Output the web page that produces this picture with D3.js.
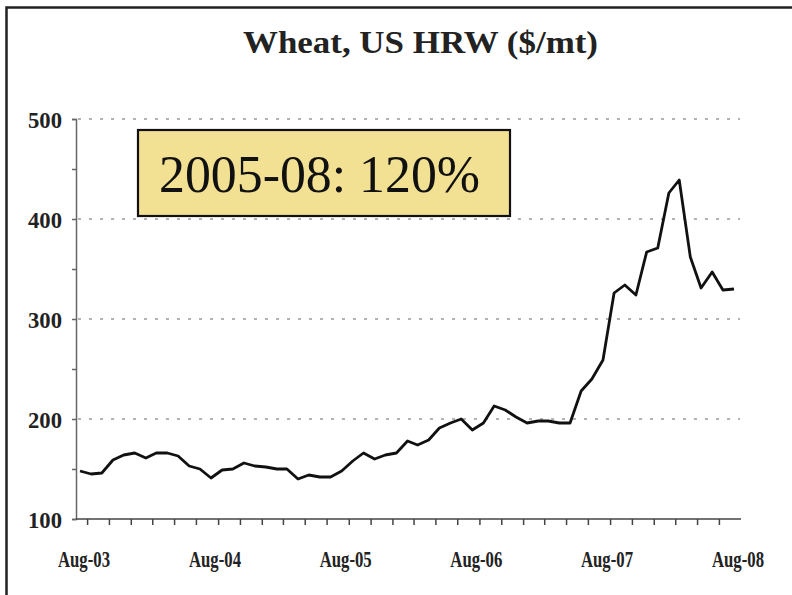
<!DOCTYPE html>
<html>
<head>
<meta charset="utf-8">
<script src="https://cdn.jsdelivr.net/npm/d3@7"></script>
<style>
  body { margin: 0; background: #fff; }
  svg { display: block; }
</style>
</head>
<body>
<script>
// Monthly price, Aug-03 .. Aug-08 ($/mt)
const startMonth = new Date(2003, 7, 1);
const prices = [
  148, 145, 146, 159, 164, 166, 161, 166, 166, 163, 153, 150,
  141, 149, 150, 156, 153, 152, 150, 150, 140, 144, 142, 142,
  148, 158, 166, 160, 164, 166, 178, 174, 179, 191, 196, 200,
  189, 196, 213, 209, 202, 196, 198, 198, 196, 196, 228, 240,
  259, 326, 334, 324, 367, 371, 426, 439, 362, 331, 347, 329,
  330
];
const xLabels = ['Aug-03', 'Aug-04', 'Aug-05', 'Aug-06', 'Aug-07', 'Aug-08'];
const yTicks = [100, 150, 200, 250, 300, 350, 400, 450, 500];
const gridValues = [200, 300, 400, 500];
const titleText = 'Wheat, US HRW ($/mt)';
const noteText = '2005-08: 120%';

const fullWidth = 792;
const fullHeight = 595;
const serif = '"Liberation Serif", "Times New Roman", serif';

const dates = prices.map((d, i) => d3.timeMonth.offset(startMonth, i));
const data = prices.map((p, i) => ({ date: dates[i], value: p }));

const svg = d3.select('body')
  .append('svg')
  .attr('width', fullWidth)
  .attr('height', fullHeight);

// Frame (right and bottom edges fall outside the picture)
svg.append('rect')
  .attr('x', 6.5)
  .attr('y', 7.5)
  .attr('width', 900)
  .attr('height', 700)
  .attr('fill', 'none')
  .attr('stroke', '#222')
  .attr('stroke-width', 2.5);

// Scales
const x = d3.scaleTime()
  .domain([dates[0], dates[dates.length - 1]])
  .range([80, 734]);

const y = d3.scaleLinear()
  .domain([100, 500])
  .range([519, 119]);

// Title (condensed, as in the original)
svg.append('text')
  .attr('x', 420.5)
  .attr('y', 53)
  .attr('text-anchor', 'middle')
  .attr('textLength', 355)
  .attr('lengthAdjust', 'spacingAndGlyphs')
  .style('font-family', serif)
  .style('font-weight', 'bold')
  .style('font-size', '31px')
  .style('fill', '#222')
  .text(titleText);

// Gridlines
svg.append('g')
  .selectAll('line')
  .data(gridValues)
  .enter()
  .append('line')
  .attr('x1', 78)
  .attr('x2', 740)
  .attr('y1', d => y(d))
  .attr('y2', d => y(d))
  .attr('stroke', '#9a9a9a')
  .attr('stroke-width', 1.3)
  .attr('stroke-dasharray', '3,8');

// Y axis
const yAxis = svg.append('g')
  .attr('transform', 'translate(76,0)')
  .call(d3.axisLeft(y)
    .tickValues(yTicks)
    .tickSize(4)
    .tickPadding(10)
    .tickFormat(d => (d % 100 === 0 ? d : '')));

yAxis.select('.domain')
  .attr('stroke', '#666')
  .attr('stroke-width', 1.5);
yAxis.selectAll('.tick line')
  .attr('stroke', '#666')
  .attr('stroke-width', 1.5);
yAxis.selectAll('.tick text')
  .attr('textLength', d => (d % 100 === 0 ? 34 : null))
  .attr('lengthAdjust', 'spacingAndGlyphs')
  .attr('dy', '0.36em')
  .style('font-family', serif)
  .style('font-weight', 'bold')
  .style('font-size', '24px')
  .style('fill', '#222');

// X axis: ticks every two months
const tickDates = d3.timeMonth.every(2)
  .range(dates[0], d3.timeMonth.offset(dates[dates.length - 1], 1));

const xAxis = svg.append('g')
  .attr('transform', 'translate(-4,519)')
  .call(d3.axisBottom(x)
    .tickValues(tickDates)
    .tickSize(6)
    .tickFormat(''));

xAxis.select('.domain').remove();
xAxis.selectAll('.tick line')
  .attr('stroke', '#444')
  .attr('stroke-width', 1.5);

svg.append('line')
  .attr('x1', 76)
  .attr('x2', 741)
  .attr('y1', y(100))
  .attr('y2', y(100))
  .attr('stroke', '#444')
  .attr('stroke-width', 1.5);

svg.append('g')
  .selectAll('text')
  .data(xLabels)
  .enter()
  .append('text')
  .attr('x', (d, i) => x(d3.timeMonth.offset(dates[0], i * 12)) + 4)
  .attr('y', 567)
  .attr('text-anchor', 'middle')
  .attr('textLength', 52)
  .attr('lengthAdjust', 'spacingAndGlyphs')
  .style('font-family', serif)
  .style('font-weight', 'bold')
  .style('font-size', '23px')
  .style('fill', '#222')
  .text(d => d);

// Price line
const line = d3.line()
  .x(d => x(d.date))
  .y(d => y(d.value));

svg.append('path')
  .datum(data)
  .attr('d', line)
  .attr('fill', 'none')
  .attr('stroke', '#111')
  .attr('stroke-width', 2.8)
  .attr('stroke-linejoin', 'round');

// Annotation box
const note = svg.append('g');

note.append('rect')
  .attr('x', 138)
  .attr('y', 130)
  .attr('width', 372)
  .attr('height', 86)
  .attr('fill', '#f3e193')
  .attr('stroke', '#111')
  .attr('stroke-width', 2.2);

note.append('text')
  .attr('x', 159)
  .attr('y', 192)
  .attr('textLength', 321)
  .attr('lengthAdjust', 'spacingAndGlyphs')
  .style('font-family', serif)
  .style('font-size', '52px')
  .style('fill', '#111')
  .text(noteText);
</script>
</body>
</html>
